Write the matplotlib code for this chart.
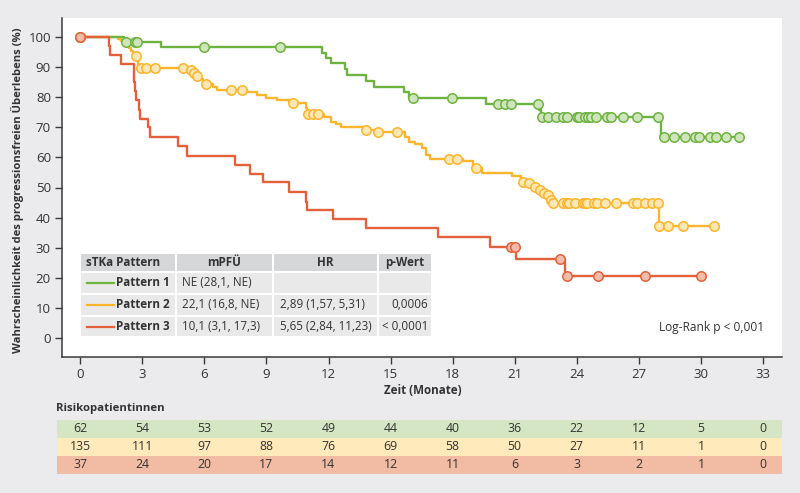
import numpy as np
import matplotlib
matplotlib.use("Agg")
import matplotlib.pyplot as plt
from matplotlib.patches import Rectangle
from matplotlib.lines import Line2D

plt.rcParams["font.family"] = ["Open Sans", "DejaVu Sans"]

# Kaplan-Meier steps: time (months) and survival (%) after each step
p1_t = [0, 2.1, 3.9, 11.7, 11.9, 12.1, 12.8, 12.9, 13.8, 14.2, 15.65, 15.9,
        19.6, 22.15, 22.25, 28.05]
p1_s = [100, 98.4, 96.8, 94.8, 93.0, 91.2, 89.3, 87.4, 85.5, 83.4, 81.8, 79.6,
        77.6, 75.7, 73.4, 66.7]
p1_cens = [0, 2.2, 2.65, 2.75, 6.0, 9.66, 16.1, 17.97, 20.2, 20.5, 20.8, 22.1,
           22.3, 22.6, 23.0, 23.3, 23.5, 24.0, 24.1, 24.4, 24.55, 24.7, 24.9,
           25.45, 25.65, 26.2, 26.9, 27.9, 28.2, 28.7, 29.2, 29.7, 29.9, 30.4,
           30.7, 31.2, 31.8]

p2_t = [0, 1.85, 2.0, 2.1, 2.25, 2.35, 2.45, 2.55, 2.62, 2.78, 5.1, 5.42, 5.58,
        5.8, 5.95, 6.05, 6.4, 6.6, 8.05, 8.55, 9.0, 9.5, 10.1, 10.2, 10.9,
        10.97, 11.8, 12.1, 12.35, 12.6, 13.7, 14.3, 15.7, 15.9, 16.2, 16.5,
        16.7, 16.9, 18.5, 19.0, 19.4, 20.85, 21.3, 21.6, 21.9, 22.1, 22.3,
        22.5, 22.7, 22.8, 27.95]
p2_s = [100, 99.3, 98.5, 97.8, 97.0, 96.3, 95.5, 94.8, 93.6, 89.6, 88.9, 88.1,
        87.2, 86.0, 85.1, 84.4, 83.4, 82.4, 81.6, 80.7, 79.8, 79.1, 78.5, 78.0,
        76.4, 74.4, 73.5, 71.9, 71.0, 70.2, 69.1, 68.4, 66.9, 65.2, 64.5, 63.1,
        60.8, 59.4, 58.7, 56.6, 54.9, 53.8, 51.9, 51.4, 50.3, 49.2, 48.3, 47.5,
        45.8, 44.7, 37.2]
p2_cens = [0, 2.7, 2.95, 3.2, 3.6, 4.97, 5.36, 5.5, 5.65, 6.1, 7.3, 7.8, 10.3,
           11.0, 11.25, 11.5, 13.8, 14.4, 15.3, 17.8, 18.2, 19.1, 21.4, 21.7,
           21.98, 22.2, 22.4, 22.6, 22.75, 22.85, 23.3, 23.5, 23.6, 23.9, 24.3,
           24.4, 24.5, 24.8, 24.97, 25.35, 25.9, 26.7, 26.9, 27.3, 27.6, 27.9,
           27.97, 28.4, 29.1, 30.6]

p3_t = [0, 1.4, 1.45, 2.0, 2.6, 2.65, 2.72, 2.83, 2.9, 3.3, 3.4, 4.75, 5.15,
        7.5, 8.2, 8.85, 10.1, 10.9, 10.95, 12.2, 13.8, 17.3, 19.8, 21.05, 23.4]
p3_s = [100, 97.0, 94.0, 91.0, 85.2, 81.9, 79.0, 75.7, 72.8, 70.0, 66.7, 63.8,
        60.6, 57.5, 54.5, 51.7, 48.6, 45.3, 42.5, 39.4, 36.4, 33.4, 30.4, 26.2,
        20.7]
p3_cens = [0, 20.8, 21.0, 23.2, 23.5, 25.0, 27.3, 30.0]

risk_months = [0, 3, 6, 9, 12, 15, 18, 21, 24, 27, 30, 33]
risk_p1 = [62, 54, 53, 52, 49, 44, 40, 36, 22, 12, 5, 0]
risk_p2 = [135, 111, 97, 88, 76, 69, 58, 50, 27, 11, 1, 0]
risk_p3 = [37, 24, 20, 17, 14, 12, 11, 6, 3, 2, 1, 0]

tbl_header = ["sTKa Pattern", "mPFÜ", "HR", "p-Wert"]
tbl_names = ["Pattern 1", "Pattern 2", "Pattern 3"]
tbl_mpfu = ["NE (28,1, NE)", "22,1 (16,8, NE)", "10,1 (3,1, 17,3)"]
tbl_hr = ["", "2,89 (1,57, 5,31)", "5,65 (2,84, 11,23)"]
tbl_p = ["", "0,0006", "< 0,0001"]

LINE = ["#6db33f", "#fbb52c", "#e4603b"]
FILL = ["#cfe4bd", "#fde7b5", "#f2bda8"]
ROW = ["#d4e6c4", "#feeabb", "#f2bba3"]
BG = "#ebebed"
TXT = "#333333"

W, H = 800, 493


def fx(px):
    return px / W


def fy(py):
    return 1 - py / H


fig = plt.figure(figsize=(8, 4.93), dpi=100, facecolor=BG)
ax = fig.add_axes([fx(62), fy(357), fx(782 - 62), (357 - 18) / H])
ax.set_facecolor("white")

curves = [(p1_t, p1_s, p1_cens), (p2_t, p2_s, p2_cens), (p3_t, p3_s, p3_cens)]
zord = [3, 2, 4]
for i, (t, s, c) in enumerate(curves):
    t = np.array(t, float)
    s = np.array(s, float)
    c = np.array(c, float)
    tt = np.append(t, c.max())
    ss = np.append(s, s[-1])
    ax.step(tt, ss, where="post", color=LINE[i], lw=1.7, zorder=zord[i])
    cy = s[np.searchsorted(t, c, side="right") - 1]
    ax.plot(c, cy, "o", ms=6.8, mfc=FILL[i], mec=LINE[i], mew=1.1,
            zorder=zord[i] + 0.5, clip_on=False)

ax.set_xlim(-0.87, 33.9)
ax.set_ylim(-6.3, 106.3)
ax.set_xticks(range(0, 34, 3))
ax.set_yticks(range(0, 101, 10))
for sp in ["top", "right"]:
    ax.spines[sp].set_visible(False)
for sp in ["left", "bottom"]:
    ax.spines[sp].set_color("#3a3a3a")
    ax.spines[sp].set_linewidth(1.1)
ax.tick_params(direction="out", length=5, width=1, color="#3a3a3a",
               labelcolor=TXT, labelsize=9.5, pad=3)

fig.text(fx(17), fy(190), "Wahrscheinlichkeit des progressionsfreien Überlebens (%)",
         rotation=90, ha="center", va="center", fontsize=8.1,
         fontweight="bold", color=TXT)
fig.text(fx(423), fy(391), "Zeit (Monate)", ha="center", va="center",
         fontsize=8.4, fontweight="bold", color=TXT)
fig.text(fx(764), fy(327), "Log-Rank p < 0,001", ha="right", va="center",
         fontsize=8.6, color=TXT)

# legend table inside the plot
cols = [80, 176, 273, 378, 432]
rows = [253, 272, 294, 316, 337]
for r in range(4):
    for k in range(4):
        x0, x1 = cols[k] + 1, cols[k + 1] - 1
        y0, y1 = rows[r] + 1, rows[r + 1] - 1
        fig.patches.append(Rectangle((fx(x0), fy(y1)), fx(x1 - x0), (y1 - y0) / H,
                                     transform=fig.transFigure,
                                     facecolor="#d6d7d9" if r == 0 else "#e9e9ea",
                                     edgecolor="none", zorder=5))
for k, h in enumerate(tbl_header):
    yc = fy((rows[0] + rows[1]) / 2)
    if k == 0:
        fig.text(fx(cols[0] + 6), yc, h, ha="left", va="center", fontsize=8.4,
                 fontweight="bold", color=TXT, zorder=6)
    else:
        fig.text(fx((cols[k] + cols[k + 1]) / 2), yc, h, ha="center",
                 va="center", fontsize=8.4, fontweight="bold", color=TXT, zorder=6)
for r in range(3):
    yc = (rows[r + 1] + rows[r + 2]) / 2
    fig.add_artist(Line2D([fx(87), fx(114)], [fy(yc), fy(yc)], color=LINE[r],
                          lw=1.6, transform=fig.transFigure, zorder=6))
    fig.text(fx(170), fy(yc), tbl_names[r], ha="right", va="center",
             fontsize=8.4, fontweight="bold", color=TXT, zorder=6)
    fig.text(fx(182), fy(yc), tbl_mpfu[r], ha="left", va="center",
             fontsize=8.4, color=TXT, zorder=6)
    fig.text(fx(280), fy(yc), tbl_hr[r], ha="left", va="center",
             fontsize=8.4, color=TXT, zorder=6)
    fig.text(fx(428), fy(yc), tbl_p[r], ha="right", va="center",
             fontsize=8.4, color=TXT, zorder=6)

# number-at-risk table
fig.text(fx(56), fy(408), "Risikopatientinnen", ha="left", va="center",
         fontsize=8.2, fontweight="bold", color=TXT)
rax = fig.add_axes([fx(57), fy(474), fx(782 - 57), (474 - 420) / H])
rax.set_xlim((57 - 80) / 20.7, (782 - 80) / 20.7)
rax.set_ylim(0, 3)
rax.set_facecolor("white")
for sp in rax.spines.values():
    sp.set_visible(False)
rax.set_xticks([])
rax.set_yticks([])
for i, vals in enumerate([risk_p1, risk_p2, risk_p3]):
    yb = 2 - i
    rax.axhspan(yb + 0.02, yb + 0.98, color=ROW[i], lw=0)
    for m, v in zip(risk_months, vals):
        rax.text(m, yb + 0.5, str(v), ha="center", va="center", fontsize=8.8,
                 color=TXT)

fig.savefig("out.png", dpi=100, facecolor=BG)
